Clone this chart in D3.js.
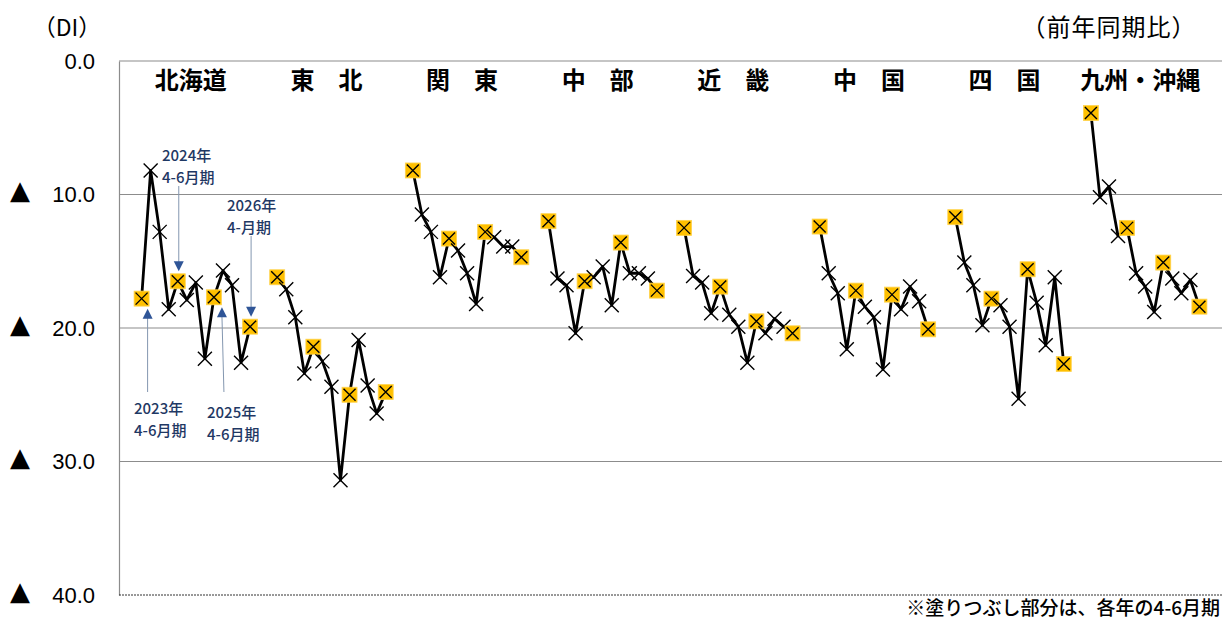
<!DOCTYPE html>
<html>
<head>
<meta charset="utf-8">
<script src="https://cdn.jsdelivr.net/npm/d3@7"></script>
<style>
  body { margin: 0; background: #fff; }
  svg { display: block; }
</style>
</head>
<body>
<div id="chart"></div>
<script>
// regions, in drawing order
var regions = ["北海道", "東　北", "関　東", "中　部", "近　畿", "中　国", "四　国", "九州・沖縄"];

// 13 quarters per region, 2023 4-6 .. 2026 4-6
var quarters = ["23Q2","23Q3","23Q4","24Q1","24Q2","24Q3","24Q4","25Q1","25Q2","25Q3","25Q4","26Q1","26Q2"];

// which quarters are 4-6 (filled marker)
var filledQuarters = ["23Q2", "24Q2", "25Q2", "26Q2"];

// DI values (shown as ▲, i.e. negative)
var hokkaido = [17.8, 8.2, 12.8, 18.6, 16.5, 17.9, 16.6, 22.3, 17.7, 15.7, 16.8, 22.6, 19.9];
var tohoku   = [16.2, 17.1, 19.2, 23.4, 21.4, 22.5, 24.4, 31.4, 25.0, 20.9, 24.3, 26.4, 24.8];
var kanto    = [8.2, 11.5, 12.8, 16.2, 13.3, 14.2, 15.9, 18.2, 12.8, 13.2, 13.9, 13.9, 14.7];
var chubu    = [12.0, 16.3, 16.8, 20.4, 16.5, 16.2, 15.4, 18.3, 13.6, 15.9, 15.9, 16.3, 17.2];
var kinki    = [12.5, 16.1, 16.6, 18.9, 16.9, 19.0, 19.9, 22.6, 19.5, 20.4, 19.3, 19.9, 20.4];
var chugoku  = [12.4, 15.9, 17.4, 21.6, 17.2, 18.4, 19.2, 23.1, 17.5, 18.6, 16.9, 18.0, 20.1];
var shikoku  = [11.7, 15.1, 16.8, 19.8, 17.8, 18.3, 19.9, 25.3, 15.6, 18.1, 21.3, 16.2, 22.7];
var kyushu   = [3.9, 10.2, 9.4, 13.1, 12.5, 15.9, 16.9, 18.8, 15.1, 16.3, 17.4, 16.4, 18.4];

var seriesList = [hokkaido, tohoku, kanto, chubu, kinki, chugoku, shikoku, kyushu];

var yTicks = [0, 10, 20, 30, 40];

// callouts on the Hokkaido series: quarter index, label lines, direction
var notes = [
  {q: 0, lines: ["2023年", "4-6月期"], up: true},
  {q: 4, lines: ["2024年", "4-6月期"], up: false},
  {q: 8, lines: ["2025年", "4-6月期"], up: true},
  {q: 12, lines: ["2026年", "4-月期"], up: false}
];

var screen = {width: 1225, height: 622};
var plot = {left: 119, right: 1222, top: 61, bottom: 595};

var svg = d3.select("#chart")
  .append("svg")
  .attr("width", screen.width)
  .attr("height", screen.height);

// category slots: 2 blank slots before every region and 2 at the end
var slots = [];
regions.forEach(function(r, i) {
  slots.push(i + "_gapA", i + "_gapB");
  quarters.forEach(function(q) { slots.push(i + "_" + q); });
});
slots.push("end_gapA", "end_gapB");

var xScale = d3.scaleBand()
  .domain(slots)
  .range([plot.left, plot.right])
  .padding(0);

var xPos = function(ri, q) { return xScale(ri + "_" + q) + xScale.bandwidth() / 2; };

var yScale = d3.scaleLinear()
  .domain([0, 40])
  .range([plot.top, plot.bottom]);

// grid lines
svg.append("g")
  .selectAll("line")
  .data([0, 10, 20, 30])
  .enter()
  .append("line")
  .attr("x1", plot.left)
  .attr("x2", plot.right)
  .attr("y1", function(d) { return yScale(d); })
  .attr("y2", function(d) { return yScale(d); })
  .attr("stroke", "#8c8c8c")
  .attr("stroke-width", 1.2);

// y axis
var yAxis = d3.axisLeft(yScale)
  .tickValues(yTicks)
  .tickSize(0)
  .tickPadding(24)
  .tickFormat(function(d) { return d.toFixed(1); });

var yg = svg.append("g")
  .attr("transform", "translate(" + plot.left + ",0)")
  .call(yAxis);
yg.select(".domain").attr("stroke", "#8c8c8c").attr("stroke-width", 1.2);
yg.selectAll("text")
  .attr("font-family", "'Liberation Sans', Arial, sans-serif")
  .attr("font-size", 22)
  .attr("fill", "#000");

// ▲ marks for the negative ticks
yg.selectAll(".tick")
  .filter(function(d) { return d !== 0; })
  .append("text")
  .attr("x", -plot.left + 10)
  .attr("y", 4)
  .attr("dy", 0)
  .attr("text-anchor", "start")
  .attr("font-family", "'DejaVu Sans', sans-serif")
  .attr("font-size", 26)
  .attr("fill", "#000")
  .text("▲");

// bottom line
svg.append("line")
  .attr("x1", plot.left)
  .attr("x2", plot.right)
  .attr("y1", yScale(40))
  .attr("y2", yScale(40))
  .attr("stroke", "#333")
  .attr("stroke-width", 1)
  .attr("stroke-dasharray", "2,1");

var cjk = "'Noto Sans CJK JP', sans-serif";

svg.append("text")
  .attr("x", 67).attr("y", 36)
  .attr("text-anchor", "middle")
  .attr("font-family", cjk).attr("font-size", 23)
  .text("（DI）");

svg.append("text")
  .attr("x", 1109).attr("y", 36)
  .attr("text-anchor", "middle")
  .attr("font-family", cjk).attr("font-size", 24)
  .attr("letter-spacing", 1)
  .text("（前年同期比）");

// region names
svg.append("g")
  .selectAll("text")
  .data(regions)
  .enter()
  .append("text")
  .attr("x", function(r, i) { return xPos(i, quarters[6]) - 5; })
  .attr("y", 89)
  .attr("text-anchor", "middle")
  .attr("font-family", cjk)
  .attr("font-size", 24)
  .attr("font-weight", 700)
  .text(function(r) { return r; });

var line = d3.line()
  .x(function(d) { return d.x; })
  .y(function(d) { return d.y; });

var cross = function(g, s) {
  g.append("path")
    .attr("d", "M" + (-s) + "," + (-s) + "L" + s + "," + s + "M" + s + "," + (-s) + "L" + (-s) + "," + s)
    .attr("stroke", "#000")
    .attr("stroke-width", 1.4)
    .attr("fill", "none");
};

seriesList.forEach(function(vals, ri) {
  var pts = vals.map(function(v, qi) {
    return {x: xPos(ri, quarters[qi]), y: yScale(v), q: quarters[qi]};
  });

  svg.append("path")
    .datum(pts)
    .attr("d", line)
    .attr("fill", "none")
    .attr("stroke", "#000")
    .attr("stroke-width", 2.8)
    .attr("stroke-linejoin", "round");

  pts.forEach(function(p) {
    var g = svg.append("g").attr("transform", "translate(" + p.x + "," + p.y + ")");
    if (filledQuarters.indexOf(p.q) >= 0) {
      g.append("rect")
        .attr("x", -7.5).attr("y", -7.5)
        .attr("width", 15).attr("height", 15)
        .attr("fill", "#ffc000")
        .attr("stroke", "#ffd34d")
        .attr("stroke-width", 0.8);
      cross(g, 6);
    } else {
      cross(g, 7);
    }
  });
});

// callouts (Hokkaido)
var noteColor = "#1f3864";
notes.forEach(function(n) {
  var px = xPos(0, quarters[n.q]);
  var py = yScale(hokkaido[n.q]);
  var g = svg.append("g");
  var tipY, tailY, textY;
  if (n.up) {
    tipY = py + 10;
    tailY = 392;
    textY = n.q === 0 ? 414 : 418;
  } else {
    tipY = py - 10;
    tailY = n.q === 4 ? 186 : 236;
    textY = n.q === 4 ? 161 : 211;
  }
  var ax = n.q === 8 ? px + 8 : px + (n.q === 0 ? 6 : 1);
  var dir = n.up ? 1 : -1;
  g.append("line")
    .attr("x1", n.q === 8 ? ax + 2 : ax).attr("y1", tailY)
    .attr("x2", ax).attr("y2", tipY + dir * 8)
    .attr("stroke", "#8497b0")
    .attr("stroke-width", 1);
  g.append("path")
    .attr("d", "M" + ax + "," + tipY + "L" + (ax - 5) + "," + (tipY + dir * 10) + "L" + (ax + 5) + "," + (tipY + dir * 10) + "Z")
    .attr("fill", "#2f5597");
  var tx = {0: 134, 4: 162, 8: 207, 12: 227}[n.q];
  n.lines.forEach(function(t, li) {
    g.append("text")
      .attr("x", tx)
      .attr("y", textY + li * 22)
      .attr("font-family", cjk)
      .attr("font-size", 15)
      .attr("font-weight", 500)
      .attr("fill", noteColor)
      .text(t);
  });
});

// footnote
svg.append("text")
  .attr("x", 1220).attr("y", 615)
  .attr("text-anchor", "end")
  .attr("font-family", cjk)
  .attr("font-size", 19)
  .attr("font-weight", 500)
  .text("※塗りつぶし部分は、各年の4-6月期");
</script>
</body>
</html>
